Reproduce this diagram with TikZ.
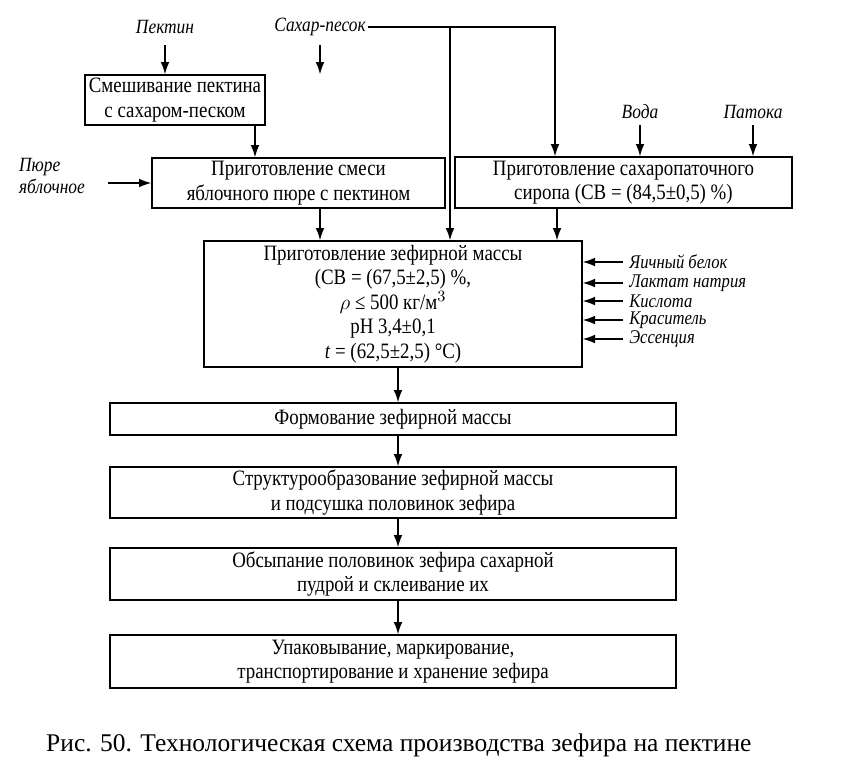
\documentclass[tikz,border=0pt]{standalone}
\usepackage{fontspec}
\setmainfont{Liberation Serif}[FakeStretch=0.86]
\newfontfamily\capfont{Liberation Serif}
\usetikzlibrary{arrows.meta}
\begin{document}
\begin{tikzpicture}[x=0.02cm,y=-0.02cm,
  box/.style={draw, thick, minimum height=#1, align=center, inner sep=0pt, font=\fontsize{12.5}{14}\selectfont},
  inlbl/.style={font=\fontsize{11.5}{13}\selectfont\itshape, align=left, inner sep=1pt},
  sidelbl/.style={font=\fontsize{11}{11}\selectfont\itshape, anchor=west, inner sep=0pt},
  flow/.style={-{Latex[length=7pt,width=5pt]}, thick}]
\useasboundingbox (0,0) rectangle (858,768);

%boxes
\node[box=50*0.02cm, minimum width=180*0.02cm] (mix) at (175,100) {Смешивание пектина\\с сахаром-песком};
\node[box=50*0.02cm, minimum width=293*0.02cm] (pure) at (298.5,183) {Приготовление смеси\\яблочного пюре с пектином};
\node[box=51*0.02cm, minimum width=337*0.02cm] (syrup) at (623.5,182.5) {Приготовление сахаропаточного\\сиропа (СВ = (84,5±0,5) \%)};
\node[box=126*0.02cm, minimum width=378*0.02cm] (mass) at (393,304) {Приготовление зефирной массы\\(СВ = (67,5±2,5) \%,\\$\rho$ ≤ 500 кг/м$^3$\\pH 3,4±0,1\\\textit{t} = (62,5±2,5) °С)};
\node[box=32*0.02cm, minimum width=566*0.02cm] (form) at (393,419) {Формование зефирной массы};
\node[box=51*0.02cm, minimum width=566*0.02cm] (struct) at (393,492.5) {Структурообразование зефирной массы\\и подсушка половинок зефира};
\node[box=52*0.02cm, minimum width=566*0.02cm] (coat) at (393,574) {Обсыпание половинок зефира сахарной\\пудрой и склеивание их};
\node[box=53*0.02cm, minimum width=566*0.02cm] (pack) at (393,661.5) {Упаковывание, маркирование,\\транспортирование и хранение зефира};

%inputs
\node[inlbl] (pectin) at (165,27) {Пектин};
\node[inlbl] (sugar) at (320,27) {Сахар-песок};
\node[inlbl] (water) at (640,112) {Вода};
\node[inlbl] (treacle) at (753,112) {Патока};
\node[inlbl, align=left] (puree) at (52,176) {Пюре\\яблочное};
\node[sidelbl] (egg) at (629,262) {Яичный белок};
\node[sidelbl] (lact) at (629,283) {Лактат натрия};
\node[sidelbl] (acid) at (629,301) {Кислота};
\node[sidelbl] (dye) at (629,320) {Краситель};
\node[sidelbl] (ess) at (629,339) {Эссенция};

\draw[flow] (165,45) -- (mix.north -| 165,0);
\draw[flow] (320,45) -- (mix.north -| 320,0);
\draw[flow] (sugar.east) -- (555,27) -- (syrup.north -| 555,0);
\draw[flow] (450,27) -- (mass.north -| 450,0);
\draw[flow] (640,125) -- (syrup.north -| 640,0);
\draw[flow] (753,125) -- (syrup.north -| 753,0);
\draw[flow] (108,183) -- (pure.west);
\draw[flow] (mix.south -| 255,0) -- (pure.north -| 255,0);
\draw[flow] (pure.south -| 320,0) -- (mass.north -| 320,0);
\draw[flow] (syrup.south -| 557,0) -- (mass.north -| 557,0);
\foreach \n in {egg,lact,acid,dye,ess}
  \draw[flow] (\n.west) ++(-6,0) -- (\n -| mass.east);
\draw[flow] (mass.south -| 398,0) -- (form.north -| 398,0);
\draw[flow] (form.south -| 398,0) -- (struct.north -| 398,0);
\draw[flow] (struct.south -| 398,0) -- (coat.north -| 398,0);
\draw[flow] (coat.south -| 398,0) -- (pack.north -| 398,0);

\node[font=\capfont\fontsize{14.5}{16}\selectfont, anchor=west] (cap) at (40,745) {Рис. 50. Технологическая схема производства зефира на пектине};
\end{tikzpicture}
\end{document}
